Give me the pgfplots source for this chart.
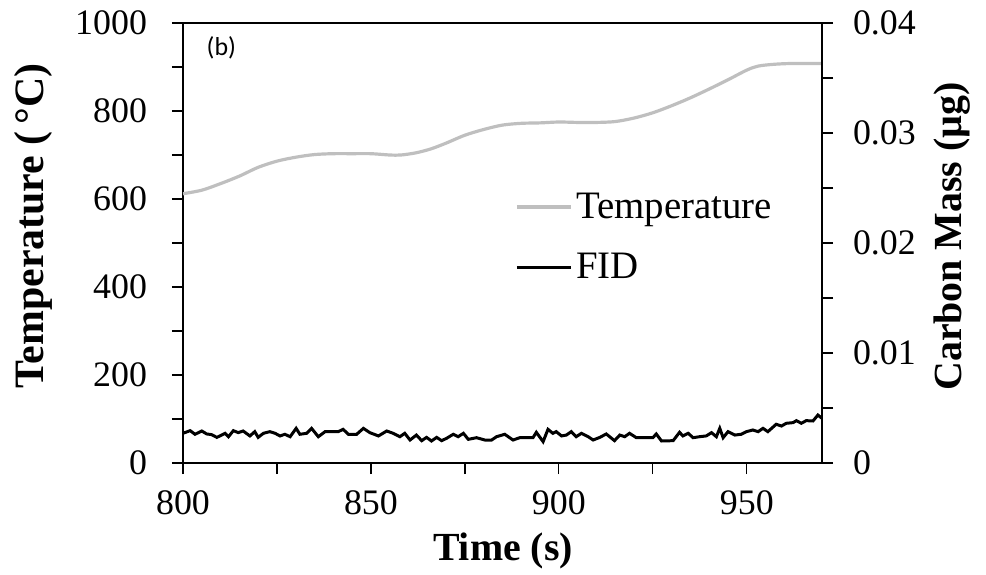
\documentclass[border=0pt]{standalone}
\usepackage{pgfplots}
\pgfplotsset{compat=1.18}
\usepackage{pgfplotstable}
\usepackage{fontspec}
\setmainfont{Liberation Serif}
\newfontfamily\carlito{Carlito}
\definecolor{tempgray}{RGB}{191,191,191}

\pgfplotstableread{
x v
800 612
805 620
810 635
815 652
820 672
825 686
830 695
835 701
840 703
845 703
850 703
855 700
858 700
862 705
866 714
870 727
875 745
880 758
885 768
890 772
895 773
900 775
905 774
910 774
915 776
920 784
925 796
930 812
935 830
940 850
945 871
950 893
953 902
957 906
962 908
970 908
}\temptab

\pgfplotstableread{
x m
800.0 0.00270
801.9 0.00294
803.2 0.00261
805.0 0.00291
806.3 0.00264
807.6 0.00258
809.0 0.00233
809.8 0.00246
811.2 0.00270
812.1 0.00239
813.4 0.00294
814.7 0.00276
816.0 0.00291
817.8 0.00246
819.1 0.00285
820.0 0.00233
821.4 0.00270
823.1 0.00285
824.5 0.00270
825.8 0.00246
827.1 0.00261
828.5 0.00239
830.1 0.00315
831.1 0.00261
832.9 0.00270
834.2 0.00315
836.0 0.00239
837.8 0.00285
840.0 0.00285
841.3 0.00285
842.6 0.00306
844.0 0.00261
846.2 0.00261
848.0 0.00315
849.7 0.00276
852.0 0.00246
854.2 0.00291
855.9 0.00270
857.7 0.00239
859.0 0.00270
860.4 0.00209
862.1 0.00254
863.5 0.00203
864.8 0.00233
866.1 0.00200
867.5 0.00233
868.8 0.00203
870.1 0.00224
871.9 0.00261
873.2 0.00239
874.6 0.00270
875.9 0.00215
878.1 0.00230
880.3 0.00209
882.1 0.00209
883.4 0.00239
885.6 0.00261
887.8 0.00209
889.6 0.00230
893.1 0.00230
894.0 0.00279
895.8 0.00194
897.1 0.00306
898.4 0.00270
899.3 0.00285
900.7 0.00246
902.0 0.00254
903.3 0.00285
904.6 0.00239
906.0 0.00270
907.8 0.00239
909.1 0.00209
910.9 0.00233
912.6 0.00264
914.8 0.00203
916.2 0.00254
917.5 0.00239
918.8 0.00270
920.6 0.00230
925.0 0.00230
925.9 0.00264
927.3 0.00200
930.4 0.00203
932.1 0.00279
933.0 0.00246
934.4 0.00270
935.7 0.00230
937.4 0.00239
939.2 0.00246
940.6 0.00276
941.9 0.00239
942.8 0.00315
943.7 0.00230
945.0 0.00285
946.8 0.00254
948.5 0.00261
949.9 0.00285
951.6 0.00300
953.0 0.00285
954.3 0.00315
955.6 0.00285
957.8 0.00352
959.2 0.00336
960.5 0.00361
962.3 0.00367
963.2 0.00385
964.5 0.00361
965.8 0.00385
967.6 0.00382
968.9 0.00436
970.0 0.00406
}\fidtab

\begin{document}
\begin{tikzpicture}
\useasboundingbox (-91.5bp,-56bp) rectangle (401.5bp,231.5bp);
\pgfplotsset{
  every axis/.append style={
    scale only axis, width=319.5bp, height=220bp,
    font=\fontsize{18}{21}\selectfont,
    /pgf/number format/assume math mode=true,
    tick align=outside,
    major tick length=5.5bp, minor tick length=5.5bp,
    every tick/.style={black, line width=0.6pt},
    every minor tick/.style={black, line width=0.6pt},
    axis line style={line width=0.8pt},
  },
}
\begin{axis}[
  xmin=800, xmax=970, ymin=0, ymax=1000,
  xtick={800,850,900,950}, minor x tick num=1,
  ytick={0,200,400,600,800,1000}, minor y tick num=1,
  xtick pos=bottom, ytick pos=left,
  /pgf/number format/1000 sep={},
  xlabel={\textbf{Time (s)}},
  ylabel={\textbf{Temperature (\,\textdegree C)}},
  xlabel style={at={(rel axis cs:0.5008,-0.2)}, anchor=center, font=\fontsize{20}{24}\selectfont},
  ylabel style={at={(rel axis cs:-0.2347,0.5386)}, anchor=center, font=\fontsize{21}{25}\selectfont},
  xticklabel style={yshift=-5bp},
  yticklabel style={xshift=-9bp},
]
\addplot[tempgray, line width=1.6pt, smooth] table[x=x,y=v] {\temptab};
\node[anchor=west, font=\carlito\fontsize{13}{15}\selectfont] at (rel axis cs:0.026,0.943) {(b)};
\end{axis}
\begin{axis}[
  xmin=800, xmax=970, ymin=0, ymax=0.04,
  axis x line=none, axis y line*=right,
  ytick={0,0.01,0.02,0.03,0.04}, minor y tick num=1,
  scaled y ticks=false,
  yticklabel style={/pgf/number format/fixed, /pgf/number format/precision=2, xshift=6.5bp},
  ylabel={\textbf{Carbon Mass (µg)}},
  ylabel style={at={(rel axis cs:1.203,0.515)}, anchor=center, font=\fontsize{20}{24}\selectfont},
  legend style={at={(rel axis cs:0.51,0.633)}, anchor=north west, draw=none, fill=none,
    font=\fontsize{19.5}{23}\selectfont, row sep=12bp,
    /tikz/every even column/.append style={column sep=0bp}},
  legend cell align=left,
  legend image code/.code={\draw[#1] (0cm,0cm) -- (0.95cm,0cm);},
]
\addlegendimage{tempgray, line width=1.6pt}
\addlegendentry{Temperature}
\addplot[black, line width=1.5pt] table[x=x,y=m] {\fidtab};
\addlegendentry{FID}
\end{axis}
\end{tikzpicture}
\end{document}
